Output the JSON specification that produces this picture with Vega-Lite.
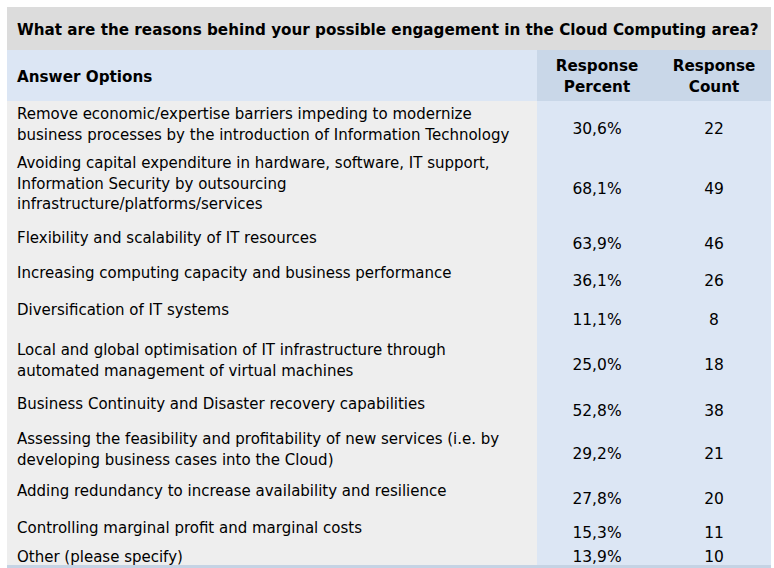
{
  "$schema": "https://vega.github.io/schema/vega-lite/v6.json",
  "width": 774,
  "height": 568,
  "padding": 0,
  "autosize": {"type": "none"},
  "background": "white",
  "config": {
    "view": {"stroke": null},
    "locale": {"number": {"decimal": ",", "thousands": ".", "grouping": [3], "currency": ["", " €"]}},
    "text": {"font": "DejaVu Sans", "fontSize": 15, "color": "#000000"}
  },
  "datasets": {
    "rows": [
      {"row": 1, "answer": "Remove economic/expertise barriers impeding to modernize\nbusiness processes by the introduction of Information Technology", "percent": 0.306, "count": 22},
      {"row": 2, "answer": "Avoiding capital expenditure in hardware, software, IT support,\nInformation Security by outsourcing\ninfrastructure/platforms/services", "percent": 0.681, "count": 49},
      {"row": 3, "answer": "Flexibility and scalability of IT resources", "percent": 0.639, "count": 46},
      {"row": 4, "answer": "Increasing computing capacity and business performance", "percent": 0.361, "count": 26},
      {"row": 5, "answer": "Diversification of IT systems", "percent": 0.111, "count": 8},
      {"row": 6, "answer": "Local and global optimisation of IT infrastructure through\nautomated management of virtual machines", "percent": 0.25, "count": 18},
      {"row": 7, "answer": "Business Continuity and Disaster recovery capabilities", "percent": 0.528, "count": 38},
      {"row": 8, "answer": "Assessing the feasibility and profitability of new services (i.e. by\ndeveloping business cases into the Cloud)", "percent": 0.292, "count": 21},
      {"row": 9, "answer": "Adding redundancy to increase availability and resilience", "percent": 0.278, "count": 20},
      {"row": 10, "answer": "Controlling marginal profit and marginal costs", "percent": 0.153, "count": 11},
      {"row": 11, "answer": "Other (please specify)", "percent": 0.139, "count": 10}
    ]
  },
  "resolve": {"scale": {"y": "independent"}},
  "layer": [
    {
      "data": {"values": [{}]},
      "mark": {"type": "rect", "fill": "#dcdcdc"},
      "encoding": {
        "x": {"datum": 0, "type": "quantitative", "scale": {"domain": [0, 1, 2, 3], "range": [7, 537, 657, 771], "nice": false, "zero": false}, "axis": null},
        "x2": {"datum": 3},
        "y": {"datum": -1, "type": "quantitative", "scale": {"domain": [-1, 0, 1, 12, 13], "range": [7, 50, 101, 565, 568], "nice": false, "zero": false}, "axis": null},
        "y2": {"datum": 0}
      }
    },
    {
      "data": {"values": [{}]},
      "mark": {"type": "rect", "fill": "#dce6f4"},
      "encoding": {
        "x": {"datum": 0, "type": "quantitative", "scale": {"domain": [0, 1, 2, 3], "range": [7, 537, 657, 771], "nice": false, "zero": false}, "axis": null},
        "x2": {"datum": 1},
        "y": {"datum": 0, "type": "quantitative", "scale": {"domain": [-1, 0, 1, 12, 13], "range": [7, 50, 101, 565, 568], "nice": false, "zero": false}, "axis": null},
        "y2": {"datum": 1}
      }
    },
    {
      "data": {"values": [{}]},
      "mark": {"type": "rect", "fill": "#c9d7e8"},
      "encoding": {
        "x": {"datum": 1, "type": "quantitative", "scale": {"domain": [0, 1, 2, 3], "range": [7, 537, 657, 771], "nice": false, "zero": false}, "axis": null},
        "x2": {"datum": 3},
        "y": {"datum": 0, "type": "quantitative", "scale": {"domain": [-1, 0, 1, 12, 13], "range": [7, 50, 101, 565, 568], "nice": false, "zero": false}, "axis": null},
        "y2": {"datum": 1}
      }
    },
    {
      "data": {"values": [{}]},
      "mark": {"type": "rect", "fill": "#eeeeee"},
      "encoding": {
        "x": {"datum": 0, "type": "quantitative", "scale": {"domain": [0, 1, 2, 3], "range": [7, 537, 657, 771], "nice": false, "zero": false}, "axis": null},
        "x2": {"datum": 1},
        "y": {"datum": 1, "type": "quantitative", "scale": {"domain": [-1, 0, 1, 12, 13], "range": [7, 50, 101, 565, 568], "nice": false, "zero": false}, "axis": null},
        "y2": {"datum": 12}
      }
    },
    {
      "data": {"values": [{}]},
      "mark": {"type": "rect", "fill": "#dce6f4"},
      "encoding": {
        "x": {"datum": 1, "type": "quantitative", "scale": {"domain": [0, 1, 2, 3], "range": [7, 537, 657, 771], "nice": false, "zero": false}, "axis": null},
        "x2": {"datum": 3},
        "y": {"datum": 1, "type": "quantitative", "scale": {"domain": [-1, 0, 1, 12, 13], "range": [7, 50, 101, 565, 568], "nice": false, "zero": false}, "axis": null},
        "y2": {"datum": 12}
      }
    },
    {
      "data": {"values": [{}]},
      "mark": {"type": "rect", "fill": "#c5d3e4"},
      "encoding": {
        "x": {"datum": 0, "type": "quantitative", "scale": {"domain": [0, 1, 2, 3], "range": [7, 537, 657, 771], "nice": false, "zero": false}, "axis": null},
        "x2": {"datum": 3},
        "y": {"datum": 12, "type": "quantitative", "scale": {"domain": [-1, 0, 1, 12, 13], "range": [7, 50, 101, 565, 568], "nice": false, "zero": false}, "axis": null},
        "y2": {"datum": 13}
      }
    },
    {
      "data": {"values": [{"label": "What are the reasons behind your possible engagement in the Cloud Computing area?"}]},
      "mark": {"type": "text", "align": "left", "baseline": "middle", "fontWeight": "bold", "fontSize": 15.2, "dx": 10, "dy": 1},
      "encoding": {
        "x": {"datum": 0, "type": "quantitative", "scale": {"domain": [0, 1, 2, 3], "range": [7, 537, 657, 771], "nice": false, "zero": false}, "axis": null},
        "y": {"datum": -0.5, "type": "quantitative", "scale": {"domain": [-1, 0, 1, 12, 13], "range": [7, 50, 101, 565, 568], "nice": false, "zero": false}, "axis": null},
        "text": {"field": "label"}
      }
    },
    {
      "data": {"values": [{"label": "Answer Options"}]},
      "mark": {"type": "text", "align": "left", "baseline": "middle", "fontWeight": "bold", "fontSize": 15.2, "dx": 10, "dy": 1.5},
      "encoding": {
        "x": {"datum": 0, "type": "quantitative", "scale": {"domain": [0, 1, 2, 3], "range": [7, 537, 657, 771], "nice": false, "zero": false}, "axis": null},
        "y": {"datum": 0.5, "type": "quantitative", "scale": {"domain": [-1, 0, 1, 12, 13], "range": [7, 50, 101, 565, 568], "nice": false, "zero": false}, "axis": null},
        "text": {"field": "label"}
      }
    },
    {
      "data": {"values": [{"label": "Response\nPercent", "col": 1.5}, {"label": "Response\nCount", "col": 2.5}]},
      "mark": {"type": "text", "align": "center", "baseline": "middle", "fontWeight": "bold", "fontSize": 15.2, "lineBreak": "\n", "lineHeight": 21, "dy": -9.5},
      "encoding": {
        "x": {"field": "col", "type": "quantitative", "scale": {"domain": [0, 1, 2, 3], "range": [7, 537, 657, 771], "nice": false, "zero": false}, "axis": null},
        "y": {"datum": 0.5, "type": "quantitative", "scale": {"domain": [-1, 0, 1, 12, 13], "range": [7, 50, 101, 565, 568], "nice": false, "zero": false}, "axis": null},
        "text": {"field": "label"}
      }
    },
    {
      "data": {"name": "rows"},
      "mark": {"type": "text", "align": "left", "baseline": "top", "lineBreak": "\n", "lineHeight": 20.5, "dx": 10, "dy": -6},
      "encoding": {
        "x": {"datum": 0, "type": "quantitative", "scale": {"domain": [0, 1, 2, 3], "range": [7, 537, 657, 771], "nice": false, "zero": false}, "axis": null},
        "y": {"field": "row", "type": "quantitative", "scale": {"domain": [1, 2, 3, 4, 5, 6, 7, 8, 9, 10, 11], "range": [113, 162, 237, 272, 309, 349, 403, 438, 490, 527, 556], "nice": false, "zero": false}, "axis": null},
        "text": {"field": "answer"}
      }
    },
    {
      "data": {"name": "rows"},
      "mark": {"type": "text", "align": "center", "baseline": "middle", "fontSize": 15.5, "dy": 1},
      "encoding": {
        "x": {"datum": 1.5, "type": "quantitative", "scale": {"domain": [0, 1, 2, 3], "range": [7, 537, 657, 771], "nice": false, "zero": false}, "axis": null},
        "y": {"field": "row", "type": "quantitative", "scale": {"domain": [1, 2, 3, 4, 5, 6, 7, 8, 9, 10, 11], "range": [128, 188, 243, 280, 319, 364, 410, 453, 498, 532, 556], "nice": false, "zero": false}, "axis": null},
        "text": {"field": "percent", "type": "quantitative", "format": ".1%"}
      }
    },
    {
      "data": {"name": "rows"},
      "mark": {"type": "text", "align": "center", "baseline": "middle", "fontSize": 15.5, "dy": 1},
      "encoding": {
        "x": {"datum": 2.5, "type": "quantitative", "scale": {"domain": [0, 1, 2, 3], "range": [7, 537, 657, 771], "nice": false, "zero": false}, "axis": null},
        "y": {"field": "row", "type": "quantitative", "scale": {"domain": [1, 2, 3, 4, 5, 6, 7, 8, 9, 10, 11], "range": [128, 188, 243, 280, 319, 364, 410, 453, 498, 532, 556], "nice": false, "zero": false}, "axis": null},
        "text": {"field": "count", "type": "quantitative"}
      }
    }
  ]
}
